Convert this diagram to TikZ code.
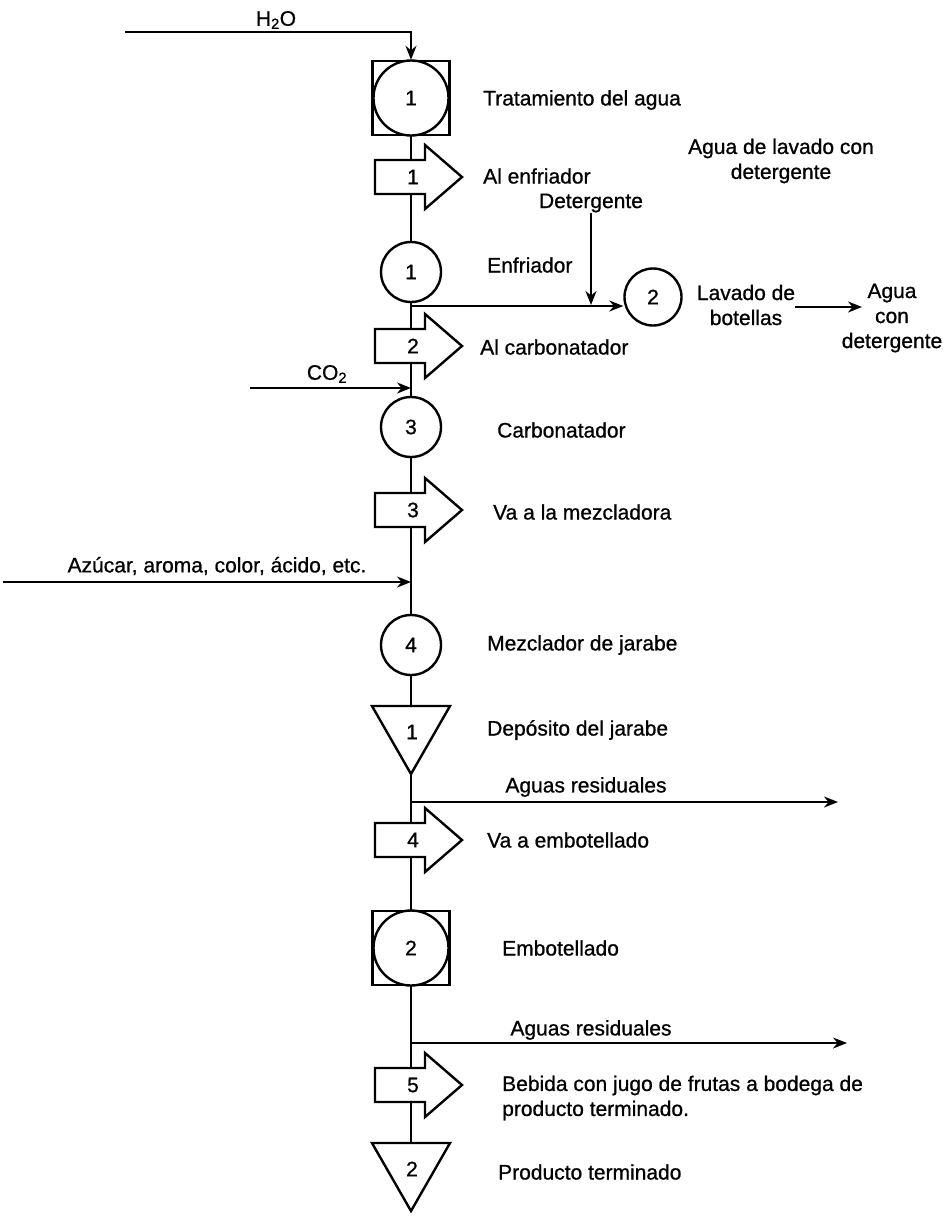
\documentclass[tikz,border=0pt]{standalone}
\usepackage{fontspec}
\setmainfont{Liberation Sans}
\newfontfamily\heavyfont{Liberation Sans}[FakeBold=0.8]
\usetikzlibrary{arrows.meta,backgrounds}
\begin{document}
\begin{tikzpicture}[x=1pt,y=-1pt,
  every node/.style={font=\heavyfont\fontsize{21}{25}\selectfont, inner sep=0pt},
  flow/.style={line width=2pt},
  arr/.style={flow, -{Stealth[length=14pt,width=11pt]}},
  shp/.style={draw, line width=2.4pt, fill=white},
  proc/.style={shp, circle, minimum size=60pt},
  lbl/.style={anchor=west},
  tarrow/.pic={
    \draw[shp, line join=miter] (-36,-17) -- (14,-17) -- (14,-32) -- (51,0) -- (14,32) -- (14,17) -- (-36,17) -- cycle;
    \node (-n) at (2,0) {#1};
  },
  tri/.pic={
    \draw[shp] (-39,0) -- (39,0) -- (0,68) -- cycle;
    \coordinate (-top) at (0,0);
    \coordinate (-apex) at (0,68);
    \node (-n) at (1,26) {#1};
  }
]
\useasboundingbox (0,0) rectangle (948,1216);

% ---- main column ----
\node[shp, minimum width=77pt, minimum height=74pt] (b1) at (411,98) {};
\node[shp, circle, minimum size=75pt] (b1c) at (411,98) {1};
\pic (t1) at (411,177) {tarrow=1};
\node[proc] (c1) at (411,272) {1};
\coordinate (j1) at (411,306);
\node[proc, minimum size=57pt] (c2) at (653,297) {2};
\pic (t2) at (411,346) {tarrow=2};
\coordinate (co2) at (411,388);
\node[proc] (c3) at (411,427) {3};
\pic (t3) at (411,510) {tarrow=3};
\coordinate (az) at (411,582);
\node[proc] (c4) at (411,645) {4};
\pic (d1) at (411,706) {tri=1};
\coordinate (j2) at (411,802);
\pic (t4) at (411,840) {tarrow=4};
\node[shp, minimum width=77pt, minimum height=74pt] (b2) at (411,948) {};
\node[shp, circle, minimum size=75pt] (b2c) at (411,948) {2};
\coordinate (j3) at (411,1043);
\pic (t5) at (411,1085) {tarrow=5};
\pic (d2) at (411,1143) {tri=2};

% ---- free ends ----
\coordinate (hs) at (125,32);
\coordinate (cs) at (250,388);
\coordinate (azs) at (3,582);
\coordinate (dj) at (591,305);
\coordinate (aw) at (862,307);
\coordinate (r1) at (838,802);
\coordinate (r2) at (847,1043);

% ---- labels ----
\node (h2o) at (276,20) {H\textsubscript{2}O};
\node (co2l) at (327,374) {CO\textsubscript{2}};
\node (azl) at (217,566) {Azúcar, aroma, color, ácido, etc.};
\node[lbl] (l1) at (483,100) {Tratamiento del agua};
\node[lbl] (l2) at (483,176) {Al enfriador};
\node[align=center] (lw) at (781,161) {Agua de lavado con\\detergente};
\node (det) at (591,203) {Detergente};
\node[lbl] (l3) at (487,265) {Enfriador};
\node[align=center] (lav) at (746,305) {Lavado de\\botellas};
\node[align=center] (agua) at (892,318) {Agua\\con\\detergente};
\node[lbl] (l4) at (480,347) {Al carbonatador};
\node[lbl] (l5) at (497,430) {Carbonatador};
\node[lbl] (l6) at (493,512) {Va a la mezcladora};
\node[lbl] (l7) at (487,645) {Mezclador de jarabe};
\node[lbl] (l8) at (487,730) {Depósito del jarabe};
\node (ar1) at (586,787) {Aguas residuales};
\node[lbl] (l9) at (487,840) {Va a embotellado};
\node[lbl] (l10) at (502,948) {Embotellado};
\node (ar2) at (591,1030) {Aguas residuales};
\node[lbl, align=left] (l11) at (502,1098) {Bebida con jugo de frutas a bodega de\\producto terminado.};
\node[lbl] (l12) at (498,1172) {Producto terminado};

% ---- main line (behind shapes) ----
\begin{scope}[on background layer]
  \draw[flow] (b1) -- (c1);
  \draw[flow] (c1) -- (c3);
  \draw[flow] (c3) -- (c4);
  \draw[flow] (c4) -- (d1-top);
  \draw[flow] (d1-apex) -- (b2);
  \draw[flow] (b2) -- (d2-top);
\end{scope}

% ---- side flows ----
\draw[arr] (hs) -| (b1.north);
\draw[arr] (j1) -- (j1 -| c2.west);
\draw[arr] (det.south) -- (dj);
\draw[arr] (lav.east |- aw) -- (aw);
\draw[arr] (cs) -- (co2);
\draw[arr] (azs) -- (az);
\draw[arr] (j2) -- (r1);
\draw[arr] (j3) -- (r2);
\end{tikzpicture}
\end{document}
